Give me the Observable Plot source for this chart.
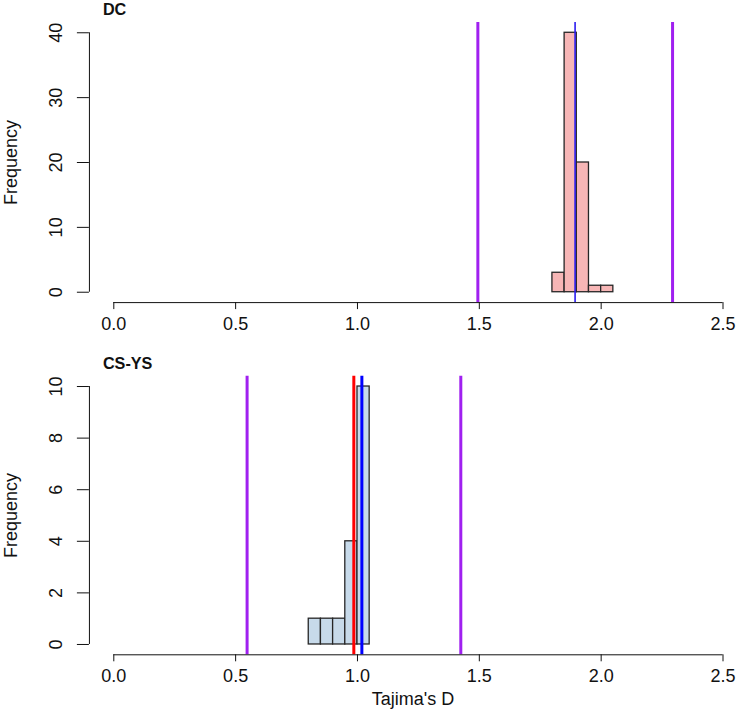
<!DOCTYPE html>
<html>
<head>
<meta charset="utf-8">
<script src="https://cdn.jsdelivr.net/npm/d3@7"></script>
<script src="https://cdn.jsdelivr.net/npm/@observablehq/plot@0.6"></script>
<style>
  body { margin: 0; background: #fff; }
  #chart svg { display: block; }
</style>
</head>
<body>
<div id="chart"></div>
<script>
// Shared x axis (Tajima's D)
const xTicks = [0, 0.5, 1, 1.5, 2, 2.5];

// DC population: histogram of simulated D, observed value and bounds
const dcEdges = [1.80, 1.85, 1.90, 1.95, 2.00, 2.05];
const dcCounts = [3, 40, 20, 1, 1];
const dcYTicks = [0, 10, 20, 30, 40];
const dcBounds = [1.494, 2.293];
const dcBlue = [1.893];

// CS-YS population
const csEdges = [0.80, 0.85, 0.90, 0.95, 1.00, 1.05];
const csCounts = [1, 1, 1, 4, 10];
const csYTicks = [0, 2, 4, 6, 8, 10];
const csBounds = [0.547, 1.424];
const csRed = [0.985];
const csBlue = [1.018];

const font = "'Liberation Sans', Arial, Helvetica, sans-serif";
const purple = "#A020F0";

function panel({title, edges, counts, yTicks, fill, lines, height, marginTop, marginBottom, titleDy, xLabel, xLabelDy}) {
  const xMin = xTicks[0], xMax = xTicks[xTicks.length - 1];
  const yMin = yTicks[0], yMax = yTicks[yTicks.length - 1];
  // R-style 4% padding around the data range
  const xPad = 0.04 * (xMax - xMin), yPad = 0.04 * (yMax - yMin);
  const bins = d3.range(counts.length);
  const marks = [
    Plot.rectY(bins, {
      x1: i => edges[i], x2: i => edges[i + 1],
      y1: 0, y2: i => counts[i],
      fill, stroke: "#262626", strokeWidth: 1.3
    }),
    ...lines.map(l => Plot.ruleX(l.values, {stroke: l.color, strokeWidth: l.width})),
    // axis lines spanning first to last tick
    Plot.ruleX([xMin - xPad], {y1: yMin, y2: yMax, stroke: "#111", strokeWidth: 1}),
    Plot.ruleY([yMin - yPad], {x1: xMin, x2: xMax, stroke: "#111", strokeWidth: 1}),
    Plot.axisY({ticks: yTicks, tickSize: 12, tickPadding: 15.5, tickRotate: -90, tickFormat: d3.format("d"), stroke: "#111", fill: "#111"}),
    Plot.axisX({ticks: xTicks, tickSize: 7, tickPadding: 7.5, tickFormat: d3.format(".1f"), stroke: "#111", fill: "#111"}),
    Plot.text([title], {frameAnchor: "top-left", text: d => d, dx: 13.5, dy: titleDy, lineAnchor: "bottom", textAnchor: "start", fontWeight: "bold", fontSize: 16.2, fill: "#111"}),
    Plot.text(["Frequency"], {frameAnchor: "left", text: d => d, dx: -72, rotate: -90, lineAnchor: "bottom", textAnchor: "middle", fill: "#111"})
  ];
  if (xLabel) {
    marks.push(Plot.text([xLabel], {frameAnchor: "bottom", text: d => d, dy: xLabelDy, lineAnchor: "bottom", textAnchor: "middle", fill: "#111"}));
  }
  return Plot.plot({
    width: 736,
    height,
    marginLeft: 88.9,
    marginRight: 0,
    marginTop,
    marginBottom,
    style: {fontFamily: font, fontSize: "18px", color: "#111", background: "#fff", overflow: "visible"},
    x: {domain: [xMin, xMax], range: [113.3, 722.5], axis: null},
    y: {domain: [yMin - yPad, yMax + yPad], axis: null},
    marks
  });
}

const chart = document.getElementById("chart");
chart.appendChild(panel({
  title: "DC", edges: dcEdges, counts: dcCounts, yTicks: dcYTicks, fill: "#F7B6B6",
  lines: [
    {values: dcBounds, color: purple, width: 3},
    {values: dcBlue, color: "#2B1CF0", width: 1.6}
  ],
  height: 356, marginTop: 21.9, marginBottom: 53.9, titleDy: -7.6
}));
chart.appendChild(panel({
  title: "CS-YS", edges: csEdges, counts: csCounts, yTicks: csYTicks, fill: "#C7DAEA",
  lines: [
    {values: csBounds, color: purple, width: 3},
    {values: csRed, color: "#FF0000", width: 3},
    {values: csBlue, color: "#0000FF", width: 3}
  ],
  height: 357, marginTop: 19.7, marginBottom: 58.7, titleDy: -7.6,
  xLabel: "Tajima's D", xLabelDy: 49.7
}));
</script>
</body>
</html>
